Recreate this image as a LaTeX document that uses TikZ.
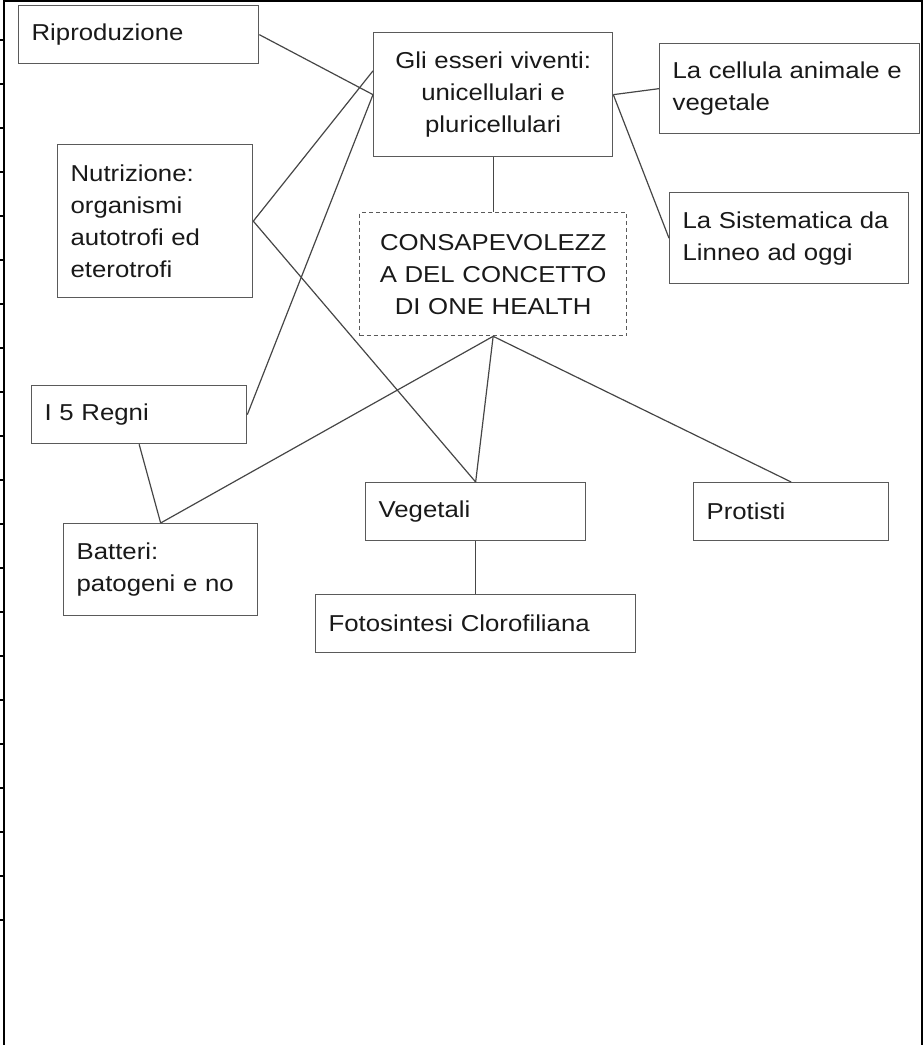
\documentclass[tikz,border=0pt]{standalone}
\usepackage{fontspec}
\setmainfont{Liberation Sans}[FakeStretch=1.12]
\usetikzlibrary{calc}

\begin{document}
\begin{tikzpicture}[x=1pt,y=-1pt,
  box/.style={draw=boxgray,line width=1.3pt,anchor=north west,inner xsep=13pt,inner ysep=0pt,
    align=left,text=textgray,font=\fontsize{23}{32}\selectfont},
  dashbox/.style={box,dash pattern=on 4pt off 3pt,align=center},
  link/.style={draw=linegray,line width=1.2pt}]

\definecolor{boxgray}{RGB}{90,90,90}
\definecolor{linegray}{RGB}{70,70,70}
\definecolor{textgray}{RGB}{25,25,25}

\useasboundingbox (0,0) rectangle (924,1045);

% page frame with ruler ticks
\draw [black,line width=2pt] (3.5,1045) -- (3.5,1) -- (921.5,1) -- (921.5,1045);
\foreach \y in {40,84,...,920}
  \draw [black,line width=2pt] (0,\y) -- (3.5,\y);

\node (repro) at (18,5) [box,minimum width=240pt,minimum height=58pt,text width=214pt] {Riproduzione};
\node (nutri) at (57,144) [box,minimum width=195pt,minimum height=153pt,text width=169pt] {Nutrizione:\\organismi\\autotrofi ed\\eterotrofi};
\node (esseri) at (373,32) [box,align=center,minimum width=239pt,minimum height=124pt,text width=213pt] {Gli esseri viventi:\\unicellulari e\\pluricellulari};
\node (cellula) at (659,43) [box,minimum width=260pt,minimum height=90pt,text width=234pt] {La cellula animale e\\vegetale};
\node (sistem) at (669,192) [box,minimum width=239pt,minimum height=91pt,text width=213pt] {La Sistematica da\\Linneo ad oggi};
\node (health) at (359,212) [dashbox,minimum width=267pt,minimum height=123pt,text width=241pt] {CONSAPEVOLEZZ\\A DEL CONCETTO\\DI ONE HEALTH};
\node (regni) at (31,385) [box,minimum width=215pt,minimum height=58pt,text width=189pt] {I 5 Regni};
\node (batteri) at (63,523) [box,minimum width=194pt,minimum height=92pt,text width=168pt] {Batteri:\\patogeni e no};
\node (vegetali) at (365,482) [box,minimum width=220pt,minimum height=58pt,text width=194pt] {Vegetali};
\node (protisti) at (693,482) [box,minimum width=195pt,minimum height=58pt,text width=169pt] {Protisti};
\node (fotosint) at (315,594) [box,minimum width=320pt,minimum height=58pt,text width=294pt] {Fotosintesi Clorofiliana};

\draw [link] (repro.east) -- (esseri.west);
\draw [link] (nutri.east) -- ($(esseri.north west)!0.31!(esseri.south west)$);
\draw [link] (nutri.east) -- (vegetali.north);
\draw [link] (regni.east) -- (esseri.west);
\draw [link] (regni.south) -- (batteri.north);
\draw [link] (batteri.north) -- (health.south);
\draw [link] (esseri.south) -- (health.north);
\draw [link] (esseri.east) -- (cellula.west);
\draw [link] (esseri.east) -- (sistem.west);
\draw [link] (health.south) -- (vegetali.north);
\draw [link] (health.south) -- (protisti.north);
\draw [link] (vegetali.south) -- (fotosint.north);

\end{tikzpicture}
\end{document}
